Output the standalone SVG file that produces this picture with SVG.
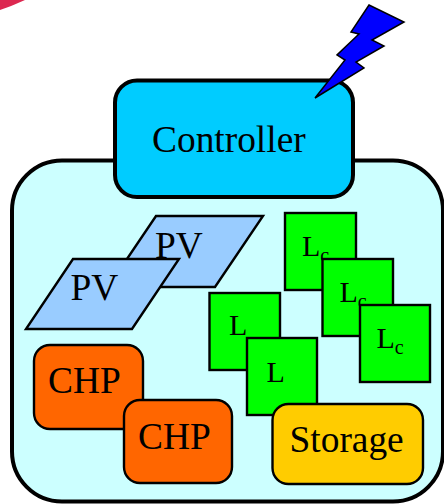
<svg xmlns="http://www.w3.org/2000/svg" width="444" height="504" viewBox="0 0 444 504">
<style>
text{font-family:"Liberation Serif","Times New Roman",serif;font-size:37.400px;fill:#000}
.n{stroke:#000;stroke-width:2.400;stroke-linejoin:miter}
.pv{fill:#99ccff}
.load{fill:#00ff00}
.chp{fill:#ff6600}
.ll{font-size:30px}
.sub{font-size:20px}
</style>
<rect width="444" height="504" fill="#fff"/>
<path d="M0 10 Q12 6 25 0 L0 0 Z" fill="#dc2850"/>
<g id="microgrid"><rect x="12" y="160.500" width="431" height="341" rx="50" ry="50" fill="#ccffff" stroke="#000" stroke-width="4"/></g>
<g id="controller"><rect x="115" y="80.500" width="238" height="116.500" rx="22" ry="22" fill="#00ccff" stroke="#000" stroke-width="4"/><text x="152" y="152">Controller</text></g>
<g id="bolt"><polygon points="369,5 404,22 372,40 384,46 356,62 364,68 315,98 345,60 337,55 359,34 351,32" fill="#0000ff" stroke="#000" stroke-width="1.500"/></g>
<g id="pv2"><polygon class="n pv" points="156,216 263,216 215,287 108,287"/><text x="155" y="258">PV</text></g>
<g id="pv1"><polygon class="n pv" points="73,259 179,259 132,329 26,329"/><text x="70.500" y="300">PV</text></g>
<g id="load-c1"><rect class="n load" x="285" y="213" width="71" height="77"/><text class="ll" x="302" y="256">L<tspan class="sub" dy="6">c</tspan></text></g>
<g id="load-c2"><rect class="n load" x="322.500" y="259" width="70.500" height="77"/><text class="ll" x="339.500" y="302">L<tspan class="sub" dy="6">c</tspan></text></g>
<g id="load-c3"><rect class="n load" x="360" y="305" width="70" height="77"/><text class="ll" x="376.500" y="348">L<tspan class="sub" dy="6">c</tspan></text></g>
<g id="load1"><rect class="n load" x="209.500" y="293" width="70.500" height="77"/><text class="ll" x="229" y="335">L</text></g>
<g id="load2"><rect class="n load" x="247" y="338" width="70" height="77"/><text class="ll" x="266.500" y="382">L</text></g>
<g id="chp1"><rect class="n chp" x="34" y="345" width="109" height="84" rx="16" ry="16"/><text x="48" y="393">CHP</text></g>
<g id="chp2"><rect class="n chp" x="124" y="400" width="108" height="83" rx="16" ry="16"/><text x="138" y="449">CHP</text></g>
<g id="storage"><rect class="n" x="272.500" y="404" width="150.500" height="80" rx="16" ry="16" fill="#ffcc00"/><text x="289.500" y="452">Storage</text></g>
<g id="connectors"></g>
</svg>
